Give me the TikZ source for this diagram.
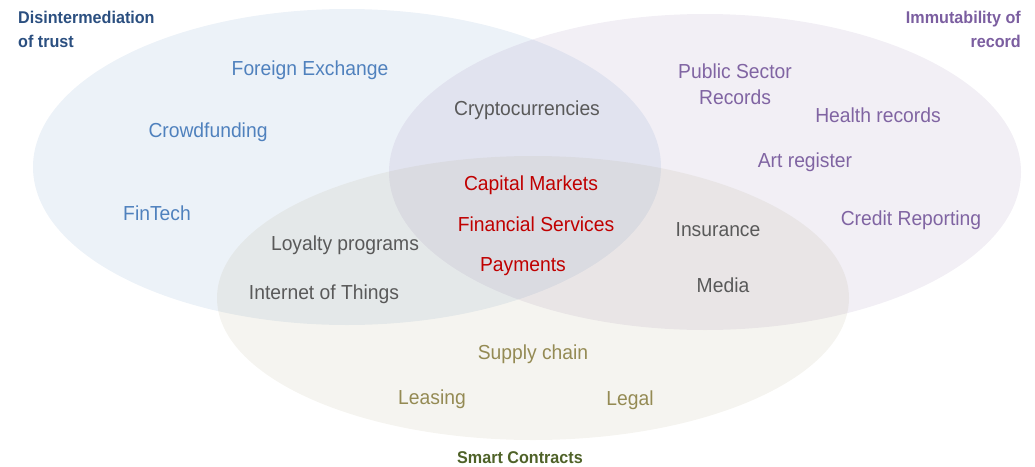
\documentclass[tikz,border=0pt]{standalone}
\usepackage{fontspec}
\setmainfont[FakeStretch=0.95]{Liberation Sans}
\definecolor{cblue}{HTML}{4F81BD}
\definecolor{cpurple}{HTML}{8064A2}
\definecolor{ctan}{HTML}{948A54}
\definecolor{tblue}{HTML}{2B4F80}
\definecolor{tpurple}{HTML}{7B5EA0}
\definecolor{tgreen}{HTML}{4F6228}
\definecolor{cred}{HTML}{C00000}
\definecolor{cgray}{HTML}{595959}
\tikzset{
  item/.style={font=\fontsize{20.3}{22}\selectfont, inner sep=0pt, anchor=base},
  blueitem/.style={item, text=cblue},
  purpleitem/.style={item, text=cpurple},
  tanitem/.style={item, text=ctan},
  reditem/.style={item, text=cred},
  grayitem/.style={item, text=cgray},
  title/.style={font=\fontsize{17}{24}\selectfont\bfseries, inner sep=0pt}
}
\begin{document}
\begin{tikzpicture}[x=1pt,y=-1pt]
\useasboundingbox (0,0) rectangle (1035,466);
\fill[cblue, fill opacity=0.105] (347,167) ellipse [x radius=314pt, y radius=158pt];
\fill[cpurple, fill opacity=0.105] (705,172) ellipse [x radius=316pt, y radius=158pt];
\fill[ctan, fill opacity=0.09] (533,298) ellipse [x radius=316pt, y radius=142pt];

\node[title, text=tblue, anchor=north west, align=left] (t1) at (18,11) {Disintermediation\\of trust};
\node[title, text=tpurple, anchor=north east, align=right] (t2) at (1021,11) {Immutability of\\record};
\node[title, text=tgreen, anchor=base] (t3) at (520,463) {Smart Contracts};

\node[blueitem] (fx) at (310,75) {Foreign Exchange};
\node[blueitem] (cf) at (208,137) {Crowdfunding};
\node[blueitem] (ft) at (157,220) {FinTech};

\node[grayitem] (cc) at (527,115) {Cryptocurrencies};
\node[purpleitem] (ps) at (735,78) {Public Sector};
\node[purpleitem] (rec) at (735,104) {Records};
\node[purpleitem] (hr) at (878,122) {Health records};
\node[purpleitem] (ar) at (805,167) {Art register};
\node[purpleitem] (cr) at (911,225) {Credit Reporting};

\node[reditem] (cm) at (531,190) {Capital Markets};
\node[reditem] (fs) at (536,231) {Financial Services};
\node[reditem] (pay) at (523,271) {Payments};

\node[grayitem] (lp) at (345,250) {Loyalty programs};
\node[grayitem] (iot) at (324,299) {Internet of Things};
\node[grayitem] (ins) at (718,236) {Insurance};
\node[grayitem] (med) at (723,292) {Media};

\node[tanitem] (sc) at (533,359) {Supply chain};
\node[tanitem] (lea) at (432,404) {Leasing};
\node[tanitem] (leg) at (630,405) {Legal};
\end{tikzpicture}
\end{document}
